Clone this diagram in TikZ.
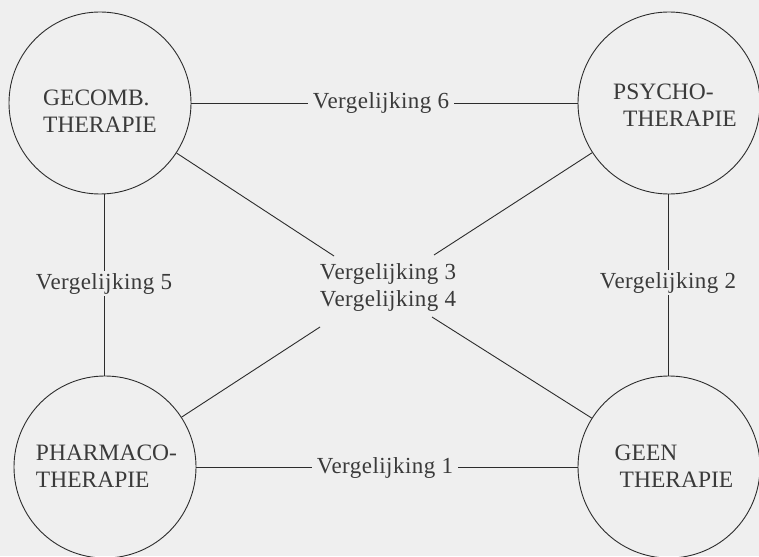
\documentclass[tikz,border=0pt]{standalone}
\usepackage{fontspec}
\setmainfont{Liberation Serif}
\newfontfamily\cmplabelfont[LetterSpace=2]{Liberation Serif}
\definecolor{paper}{HTML}{EFEFEF}
\definecolor{ink}{HTML}{2C2C2C}
\definecolor{txt}{HTML}{3A3A3A}
\begin{document}
\begin{tikzpicture}[x=1pt,y=-1pt,
  therapy/.style={circle,draw=ink,line width=0.9pt,minimum size=182pt,inner sep=0pt},
  ttext/.style={align=left,inner sep=0pt,text=txt,font=\fontsize{23.5}{27}\selectfont},
  cmp/.style={text=txt,font=\cmplabelfont\fontsize{23}{27}\selectfont,inner xsep=5pt,inner ysep=2pt,anchor=base},
  conn/.style={draw=ink,line width=0.9pt}]
\fill[paper] (0,0) rectangle (759,556);
\useasboundingbox (0,0) rectangle (759,556);
% circles
\node[therapy] (gecomb) at (100,103) {};
\node[therapy] (psycho) at (669,103) {};
\node[therapy] (pharmaco) at (105,467) {};
\node[therapy] (geen) at (669,467) {};
% circle texts
\node[ttext] (gecombtxt) at (100,111) {GECOMB.\\THERAPIE};
\node[ttext] (psychotxt) at (675,105) {PSYCHO-\\\hspace*{10pt}THERAPIE};
\node[ttext] (pharmacotxt) at (106.5,466.5) {PHARMACO-\\THERAPIE};
\node[ttext] (geentxt) at (674,466.5) {GEEN\\\hspace*{5pt}THERAPIE};
% labels
\node[cmp] (v6) at (381,109) {Vergelijking 6};
\node[cmp] (v1) at (385,473) {Vergelijking 1};
\node[cmp] (v5) at (104,289) {Vergelijking 5};
\node[cmp] (v2) at (668,288) {Vergelijking 2};
\node[cmp] (v3) at (388,279) {Vergelijking 3};
\node[cmp] (v4) at (388,306) {Vergelijking 4};
% free ends of diagonals
\coordinate (e3l) at (334,256);
\coordinate (e3r) at (434,255);
\coordinate (e4l) at (320,327);
\coordinate (e4r) at (432,317);
% connectors
\draw[conn] (gecomb.east) -- (gecomb.east -| v6.west);
\draw[conn] (psycho.west -| v6.east) -- (psycho.west);
\draw[conn] (pharmaco.east) -- (pharmaco.east -| v1.west);
\draw[conn] (geen.west -| v1.east) -- (geen.west);
\draw[conn] (v5.north |- gecomb.south) -- (v5.north);
\draw[conn] (v5.south) -- (v5.south |- pharmaco.north);
\draw[conn] (v2.north |- psycho.south) -- (v2.north);
\draw[conn] (v2.south) -- (v2.south |- geen.north);
\draw[conn] (gecomb) -- (e3l);
\draw[conn] (psycho) -- (e3r);
\draw[conn] (pharmaco) -- (e4l);
\draw[conn] (geen) -- (e4r);
\end{tikzpicture}
\end{document}
